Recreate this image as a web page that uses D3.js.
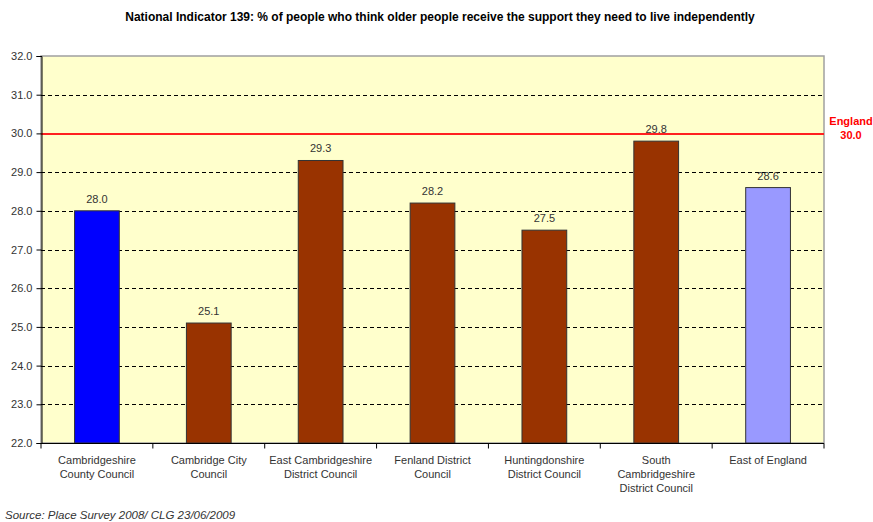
<!DOCTYPE html>
<html><head><meta charset="utf-8">
<script src="https://cdn.jsdelivr.net/npm/d3@7"></script>
<style>body{margin:0;background:#fff;}svg{display:block;font-family:"Liberation Sans",Arial,sans-serif;}</style>
</head><body>
<svg id="c" width="873" height="522"></svg>
<script>
const categories = [
  ["Cambridgeshire","County Council"],
  ["Cambridge City","Council"],
  ["East Cambridgeshire","District Council"],
  ["Fenland District","Council"],
  ["Huntingdonshire","District Council"],
  ["South","Cambridgeshire","District Council"],
  ["East of England"]
];
const values = [28.0, 25.1, 29.3, 28.2, 27.5, 29.8, 28.6];
const barColors = ["#0000FF","#993300","#993300","#993300","#993300","#993300","#9999FF"];
const yTicks = [22,23,24,25,26,27,28,29,30,31,32];
const englandValue = 30.0;
const title = "National Indicator 139: % of people who think older people receive the support they need to live independently";
const source = "Source: Place Survey 2008/ CLG 23/06/2009";

const svg = d3.select("#c");
const L = 41, R = 824, T = 56, B = 443;
const x = d3.scaleBand().domain(d3.range(categories.length)).range([L, R]).paddingInner(0.6).paddingOuter(0.3);
const y = d3.scaleLinear().domain([22, 32]).range([B, T]);

svg.append("text").attr("x", 440).attr("y", 21).attr("text-anchor","middle")
  .attr("font-size", 12).attr("font-weight","bold").attr("fill","#000").text(title);

svg.append("rect").attr("x", L).attr("y", T).attr("width", R-L).attr("height", B-T)
  .attr("fill","#FFFFCC").attr("stroke","#A0A0A0").attr("stroke-width",1.5);

// gridlines
svg.append("g").selectAll("line").data(yTicks.filter(v => v>22 && v<32 && v!==englandValue)).join("line")
  .attr("x1", L).attr("x2", R).attr("y1", d => Math.round(y(d))+0.5).attr("y2", d => Math.round(y(d))+0.5)
  .attr("stroke","#000").attr("stroke-dasharray","4,3").attr("stroke-width",1);

// England line
svg.append("rect").attr("x", L).attr("width", R-L).attr("y", Math.round(y(englandValue))).attr("height", 1.5)
  .attr("fill","#FF2020").attr("shape-rendering","crispEdges");
svg.append("text").attr("x", 851).attr("y", y(englandValue)-8).attr("text-anchor","middle")
  .attr("font-size",11).attr("font-weight","bold").attr("fill","#FF0000").text("England");
svg.append("text").attr("x", 851).attr("y", y(englandValue)+6).attr("text-anchor","middle")
  .attr("font-size",11).attr("font-weight","bold").attr("fill","#FF0000").text(englandValue.toFixed(1));

// bars
svg.append("g").selectAll("rect").data(values).join("rect")
  .attr("x", (d,i) => x(i)).attr("width", x.bandwidth())
  .attr("y", d => y(d)).attr("height", d => B - y(d))
  .attr("fill", (d,i) => barColors[i]).attr("stroke","#333").attr("stroke-width",1);

svg.append("g").selectAll("text").data(values).join("text")
  .attr("x", (d,i) => x(i) + x.bandwidth()/2).attr("y", d => y(d) - 8)
  .attr("text-anchor","middle").attr("font-size",11).attr("fill","#333").text(d => d.toFixed(1));

// y axis
const yAxis = d3.axisLeft(y).tickValues(yTicks).tickFormat(d3.format(".1f")).tickSize(5).tickPadding(4);
const gy = svg.append("g").attr("transform", `translate(${L+0.5},0)`).call(yAxis);
gy.select(".domain").attr("stroke","#000");
gy.selectAll("text").attr("font-size",11).attr("fill","#333").attr("font-family","Liberation Sans, Arial, sans-serif");

// x axis
const step = (R - L) / categories.length;
const gx = svg.append("g").attr("transform", `translate(0,${B+0.5})`);
gx.append("line").attr("x1", L).attr("x2", R).attr("stroke","#000");
gx.selectAll("line.t").data(d3.range(categories.length+1)).join("line").attr("class","t")
  .attr("x1", i => L + i*step).attr("x2", i => L + i*step).attr("y1",0).attr("y2",5).attr("stroke","#000");
const lbl = svg.append("g").selectAll("text").data(categories).join("text")
  .attr("text-anchor","middle").attr("font-size",11).attr("fill","#333")
  .attr("transform", (d,i) => `translate(${x(i)+x.bandwidth()/2},${B+21})`);
lbl.selectAll("tspan").data(d => d).join("tspan").attr("x",0).attr("dy", (d,i) => i===0 ? 0 : 14).text(d => d);

svg.append("text").attr("x", 5).attr("y", 519).attr("font-size",11.5).attr("font-style","italic")
  .attr("fill","#333").text(source);
</script>
</body></html>
